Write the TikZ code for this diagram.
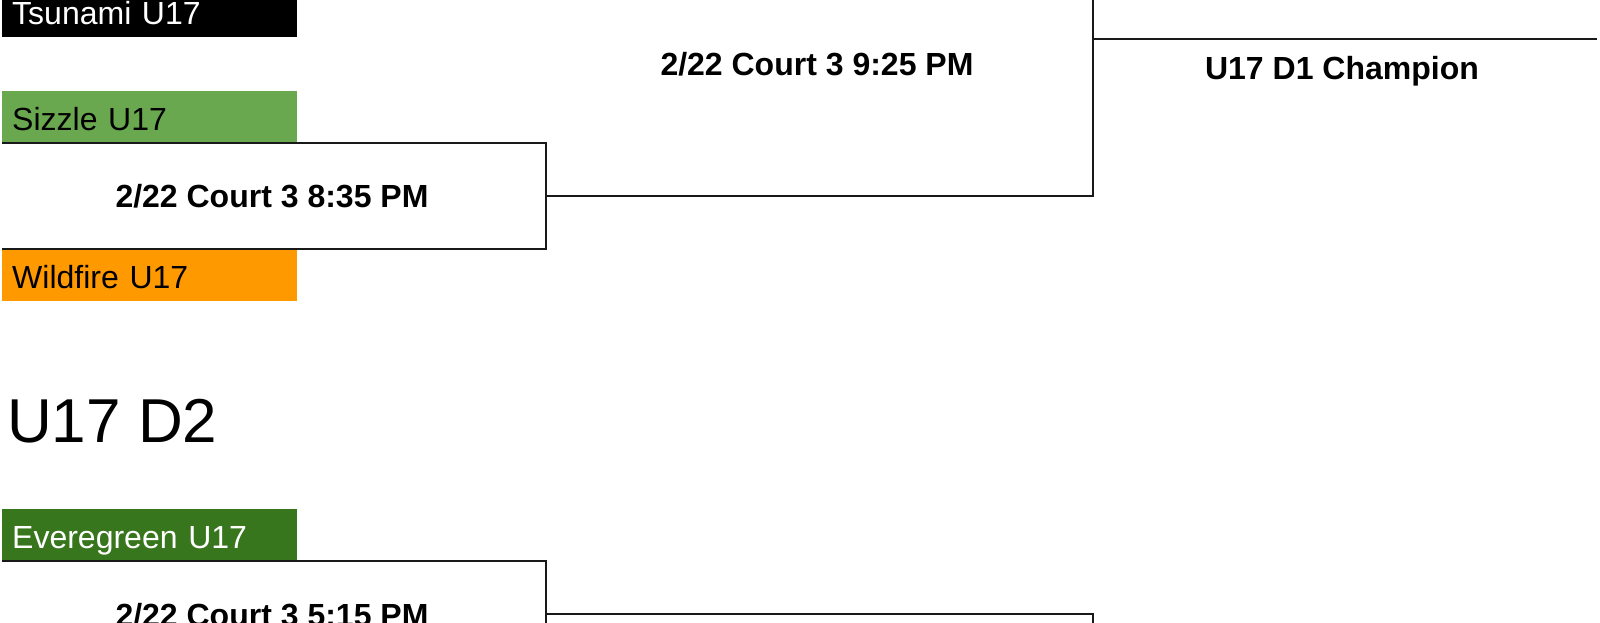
\documentclass[tikz,border=0pt]{standalone}
\usepackage{fontspec}
\setmainfont{Liberation Sans}
\definecolor{sizzle}{HTML}{6AA84F}
\definecolor{wildfire}{HTML}{FF9900}
\definecolor{evergreen}{HTML}{38761D}
\definecolor{tsunami}{HTML}{000000}
\tikzset{
  team/.style={rectangle, anchor=north west, inner xsep=10pt, inner ysep=0pt,
    text width=275pt, align=left, minimum height=52.5pt,
    text height=30pt, text depth=3.5pt, font=\fontsize{32}{38}\selectfont},
  match/.style={anchor=base, inner sep=0pt, font=\fontsize{32}{38}\selectfont\bfseries},
  title/.style={anchor=base west, inner sep=0pt, font=\fontsize{62}{70}\selectfont},
  wire/.style={line width=2pt, draw=black!90}
}
\begin{document}
\begin{tikzpicture}[x=1pt, y=-1pt]
\clip (0,0) rectangle (1600,623);
\fill[white] (0,0) rectangle (1600,623);

% teams
\node[team, fill=tsunami, text=white] (tsu) at (2,-15.5) {Tsunami U17};
\node[team, fill=sizzle] (siz) at (2,90.5) {Sizzle U17};
\node[team, fill=wildfire] (wild) at (2,248.5) {Wildfire U17};
\node[team, fill=evergreen, text=white] (ever) at (2,508.5) {Everegreen U17};

% title
\node[title] (d2) at (7,442) {U17 D2};

% match labels
\node[match] (m1) at (272,207) {2/22 Court 3 8:35 PM};
\node[match] (m2) at (817,76) {2/22 Court 3 9:25 PM};
\node[match] (champ) at (1342,80) {U17 D1 Champion};
\node[match] (m3) at (272,626) {2/22 Court 3 5:15 PM};

% junction coordinates
\coordinate (j1) at (546,195.5);
\coordinate (j2) at (1093,195.5);
\coordinate (ftop) at (1093,-10);
\coordinate (c1) at (1093,39);
\coordinate (c2) at (1597,39);
\coordinate (j3) at (546,614);
\coordinate (j4) at (1093,614);
\coordinate (b1) at (546,650);
\coordinate (b2) at (1093,650);

% D1 bracket
\draw[wire] (siz.south west) -- (siz.south west -| j1) -- (wild.north west -| j1) -- (wild.north west);
\draw[wire] (j1) -- (j2) -- (ftop);
\draw[wire] (c1) -- (c2);

% D2 bracket
\draw[wire] (ever.south west) -- (ever.south west -| j3) -- (b1);
\draw[wire] (j3) -- (j4) -- (b2);
\end{tikzpicture}
\end{document}
